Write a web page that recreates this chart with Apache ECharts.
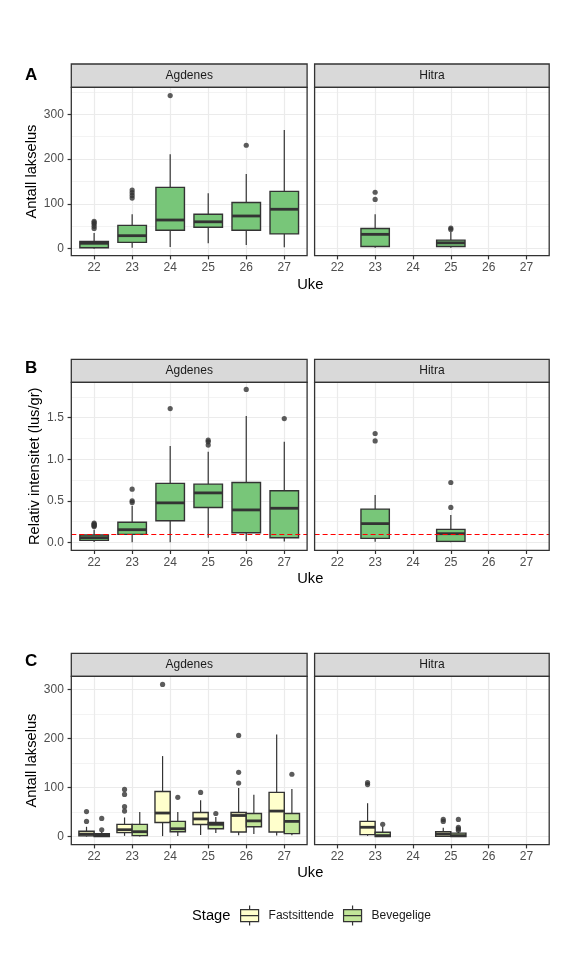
<!DOCTYPE html>
<html><head><meta charset="utf-8">
<script src="https://cdn.jsdelivr.net/npm/echarts@6/dist/echarts.min.js"></script>
<style>html,body{margin:0;padding:0;background:#fff}#c{width:576px;height:960px}</style>
</head><body><div id="c"></div>
<script>
// ---------- DATA ----------
const weeks = [22, 23, 24, 25, 26, 27];
const sites = ['Agdenes', 'Hitra'];
const stages = ['Fastsittende', 'Bevegelige'];
const countTicks = [0, 100, 200, 300];
const intensityTicks = [0, 0.5, 1, 1.5];
const liceThreshold = 0.1;

// boxes: [week, lowerWhisker, Q1, median, Q3, upperWhisker]; outliers: [week, value]
// A: Antall lakselus (total)
const countAgdenesBoxes = [
  [22, 0, 2, 12, 16, 35],
  [23, 2, 14, 29, 52, 77],
  [24, 4, 41, 64, 137, 211],
  [25, 12, 48, 60, 77, 124],
  [26, 8, 41, 73, 103, 167],
  [27, 3, 33, 88, 128, 265]
];
const countAgdenesOutliers = [
  [22, 45], [22, 50], [22, 55], [22, 58], [22, 61],
  [23, 113], [23, 119], [23, 125], [23, 131],
  [24, 342], [26, 231]
];
const countHitraBoxes = [
  [23, 2, 5, 32, 45, 77],
  [25, 2, 5, 13, 19, 37]
];
const countHitraOutliers = [[23, 110], [23, 126], [25, 43], [25, 46]];

// B: Relativ intensitet (lus/gr)
const intensityAgdenesBoxes = [
  [22, 0.005, 0.024, 0.056, 0.088, 0.15],
  [23, 0.0, 0.096, 0.152, 0.241, 0.44],
  [24, 0.0, 0.26, 0.475, 0.71, 1.16],
  [25, 0.055, 0.42, 0.595, 0.70, 1.09],
  [26, 0.015, 0.115, 0.39, 0.72, 1.52],
  [27, 0.01, 0.055, 0.41, 0.62, 1.21]
];
const intensityAgdenesOutliers = [
  [22, 0.19], [22, 0.2], [22, 0.21], [22, 0.22], [22, 0.23],
  [23, 0.48], [23, 0.5], [23, 0.64],
  [24, 1.61],
  [25, 1.17], [25, 1.21], [25, 1.23],
  [26, 1.84], [27, 1.49]
];
const intensityHitraBoxes = [
  [23, 0.008, 0.048, 0.225, 0.40, 0.57],
  [25, 0.0, 0.012, 0.104, 0.156, 0.33]
];
const intensityHitraOutliers = [[23, 1.22], [23, 1.31], [25, 0.42], [25, 0.72]];

// C: Antall lakselus by stage
const fastAgdenesBoxes = [
  [22, 0, 1.5, 5, 11, 20],
  [23, 1.5, 8, 14, 25, 39],
  [24, 1, 28.6, 48, 92, 164],
  [25, 3.5, 24.5, 36, 49, 74],
  [26, 3, 9.5, 43, 49, 99],
  [27, 2, 9.5, 52, 90, 208]
];
const fastAgdenesOutliers = [
  [22, 31], [22, 51],
  [23, 52], [23, 61], [23, 86], [23, 96],
  [24, 310], [25, 90],
  [26, 109], [26, 131], [26, 206]
];
const bevAgdenesBoxes = [
  [22, 0, 0, 2.5, 6, 10],
  [23, 0, 2, 10, 25, 50],
  [24, 1, 10, 16, 31, 50],
  [25, 7.5, 16, 25, 28.6, 40],
  [26, 5.5, 20, 32, 47, 85],
  [27, 3, 6, 31, 47, 97]
];
const bevAgdenesOutliers = [[22, 14], [22, 37], [24, 80], [25, 47], [27, 127]];
const fastHitraBoxes = [
  [23, 1.5, 4, 19, 31, 68],
  [25, 0, 0.5, 5, 10, 18]
];
const fastHitraOutliers = [[23, 106], [23, 110], [25, 31], [25, 35]];
const bevHitraBoxes = [
  [23, 0, 0, 2, 9, 20],
  [25, 0, 0, 2, 7, 10]
];
const bevHitraOutliers = [[23, 25], [25, 13], [25, 16], [25, 19], [25, 35]];

// ---------- LAYOUT / STYLE ----------
const FONT = '"Liberation Sans", Arial, Helvetica, sans-serif';
const DARK = '#333333';
const GRID = '#EBEBEB';
const cols = [{ left: 71.3, width: 235.8 }, { left: 314.6, width: 234.6 }];
const rows = [
  { letter: 'A', top: 87.3, height: 168.4, stripTop: 64, letterY: 75, titleY: 284.5,
    min: -15.7, max: 360.4, ticks: countTicks, fmt: v => String(v), yName: 'Antall lakselus',
    groups: [
      [{ boxes: countAgdenesBoxes, out: countAgdenesOutliers, fill: '#78C679', name: 'Antall' }],
      [{ boxes: countHitraBoxes, out: countHitraOutliers, fill: '#78C679', name: 'Antall' }]
    ], hline: false },
  { letter: 'B', top: 382.3, height: 168, stripTop: 359.3, letterY: 368.5, titleY: 578.8,
    min: -0.096, max: 1.926, ticks: intensityTicks, fmt: v => v.toFixed(1), yName: 'Relativ intensitet (lus/gr)',
    groups: [
      [{ boxes: intensityAgdenesBoxes, out: intensityAgdenesOutliers, fill: '#78C679', name: 'Intensitet' }],
      [{ boxes: intensityHitraBoxes, out: intensityHitraOutliers, fill: '#78C679', name: 'Intensitet' }]
    ], hline: true },
  { letter: 'C', top: 676.3, height: 168.4, stripTop: 653.3, letterY: 661.5, titleY: 873,
    min: -16.5, max: 326.5, ticks: countTicks, fmt: v => String(v), yName: 'Antall lakselus',
    groups: [
      [{ boxes: fastAgdenesBoxes, out: fastAgdenesOutliers, fill: '#FFFFCC', name: stages[0] },
       { boxes: bevAgdenesBoxes, out: bevAgdenesOutliers, fill: '#C2E699', name: stages[1] }],
      [{ boxes: fastHitraBoxes, out: fastHitraOutliers, fill: '#FFFFCC', name: stages[0] },
       { boxes: bevHitraBoxes, out: bevHitraOutliers, fill: '#C2E699', name: stages[1] }]
    ], hline: false }
];

function boxRenderer(offset, width) {
  return function (params, api) {
    const x = api.value(0) + offset;
    const lo = api.value(1), q1 = api.value(2), med = api.value(3), q3 = api.value(4), hi = api.value(5);
    const tl = api.coord([x - width / 2, q3]);
    const br = api.coord([x + width / 2, q1]);
    const pHi = api.coord([x, hi]), pQ3 = api.coord([x, q3]), pQ1 = api.coord([x, q1]), pLo = api.coord([x, lo]);
    const pMed = api.coord([x, med]);
    return {
      type: 'group',
      children: [
        { type: 'line', shape: { x1: pHi[0], y1: pHi[1], x2: pQ3[0], y2: pQ3[1] }, style: { stroke: DARK, lineWidth: 1.2 } },
        { type: 'line', shape: { x1: pLo[0], y1: pLo[1], x2: pQ1[0], y2: pQ1[1] }, style: { stroke: DARK, lineWidth: 1.2 } },
        { type: 'rect', shape: { x: tl[0], y: tl[1], width: br[0] - tl[0], height: br[1] - tl[1] },
          style: { fill: api.visual('color'), stroke: DARK, lineWidth: 1.4 } },
        { type: 'line', shape: { x1: tl[0], y1: pMed[1], x2: br[0], y2: pMed[1] }, style: { stroke: DARK, lineWidth: 2.8 } }
      ]
    };
  };
}

const grids = [], xAxes = [], yAxes = [], series = [], graphics = [];
rows.forEach((row, r) => {
  cols.forEach((col, c) => {
    const gi = r * 2 + c;
    grids.push({ left: col.left, top: row.top, width: col.width, height: row.height, show: false, outerBoundsMode: 'none', containLabel: false });
    xAxes.push({
      type: 'value', gridIndex: gi, min: 21.4, max: 27.6, position: 'bottom',
      axisLine: { show: false, onZero: false },
      axisTick: { show: true, inside: false, length: 3.7, lineStyle: { color: DARK, width: 1.2 }, customValues: weeks },
      axisLabel: { show: true, customValues: weeks, color: '#4D4D4D', fontSize: 12, fontFamily: FONT, margin: 6 },
      splitLine: { show: true, lineStyle: { color: GRID, width: 1.2 } },
      minorSplitLine: { show: false }
    });
    yAxes.push({
      type: 'value', gridIndex: gi, min: row.min, max: row.max, splitNumber: 3, position: 'left',
      axisLine: { show: false, onZero: false },
      axisTick: { show: c === 0, inside: false, length: 3.7, lineStyle: { color: DARK, width: 1.2 }, customValues: row.ticks },
      axisLabel: { show: c === 0, customValues: row.ticks, formatter: row.fmt, color: '#4D4D4D', fontSize: 12, fontFamily: FONT, margin: 7.5 },
      splitLine: { show: true, lineStyle: { color: GRID, width: 1.2 } },
      minorTick: { show: false, splitNumber: 2 },
      minorSplitLine: { show: true, lineStyle: { color: GRID, width: 0.6 } },
      name: c === 0 ? row.yName : '', nameLocation: 'middle', nameRotate: 90, nameGap: 29,
      nameTextStyle: { fontSize: 14.7, color: '#000', fontFamily: FONT }
    });
    const grp = row.groups[c];
    const n = grp.length;
    const boxW = n === 1 ? 0.75 : 0.4;
    grp.forEach((g, k) => {
      const offset = n === 1 ? 0 : (k - (n - 1) / 2) * boxW;
      series.push({
        type: 'custom', name: g.name, xAxisIndex: gi, yAxisIndex: gi,
        itemStyle: { color: g.fill }, renderItem: boxRenderer(offset, boxW),
        encode: { x: 0, y: [1, 2, 3, 4, 5] }, data: g.boxes, z: 2, clip: false
      });
      const sc = {
        type: 'scatter', name: g.name + ' outliers', xAxisIndex: gi, yAxisIndex: gi,
        symbolSize: 5.2, itemStyle: { color: DARK }, z: 3,
        data: g.out.map(p => [p[0] + offset, p[1]])
      };
      if (row.hline && k === 0) {
        sc.markLine = {
          silent: true, symbol: 'none', label: { show: false },
          lineStyle: { color: '#FF0000', type: [5, 3], width: 1.2 },
          data: [{ yAxis: liceThreshold }]
        };
      }
      series.push(sc);
    });
    // strip + panel border
    graphics.push({ type: 'rect', z: 100, shape: { x: col.left, y: row.stripTop, width: col.width, height: row.top - row.stripTop },
      style: { fill: '#D9D9D9', stroke: DARK, lineWidth: 1.3 } });
    graphics.push({ type: 'text', z: 101, x: col.left + col.width / 2, y: (row.stripTop + row.top) / 2,
      style: { text: sites[c], fill: '#1A1A1A', font: '12px ' + FONT, textAlign: 'center', textVerticalAlign: 'middle' } });
    graphics.push({ type: 'rect', z: 100, shape: { x: col.left, y: row.top, width: col.width, height: row.height },
      style: { fill: 'transparent', stroke: DARK, lineWidth: 1.3 } });
  });
  graphics.push({ type: 'text', z: 101, x: 25, y: row.letterY,
    style: { text: row.letter, fill: '#000', font: 'bold 17px ' + FONT, textAlign: 'left', textVerticalAlign: 'middle' } });
  graphics.push({ type: 'text', z: 101, x: (cols[0].left + cols[1].left + cols[1].width) / 2, y: row.titleY,
    style: { text: 'Uke', fill: '#000', font: '14.7px ' + FONT, textAlign: 'center', textVerticalAlign: 'middle' } });
});
graphics.push({ type: 'text', z: 101, x: 192, y: 915.5,
  style: { text: 'Stage', fill: '#000', font: '14.7px ' + FONT, textAlign: 'left', textVerticalAlign: 'middle' } });

const keyIcon = 'path://M0,4 L18,4 L18,16 L0,16 Z M0,10 L18,10 M9,0 L9,4 M9,16 L9,20';

const chart = echarts.init(document.getElementById('c'));
chart.setOption({
  animation: false,
  backgroundColor: '#fff',
  grid: grids, xAxis: xAxes, yAxis: yAxes, series: series,
  legend: {
    left: 240, top: 905, orient: 'horizontal', padding: 0,
    itemWidth: 18, itemHeight: 20, itemGap: 9, selectedMode: false,
    data: stages.map(s => ({ name: s, icon: keyIcon })),
    itemStyle: { borderColor: DARK, borderWidth: 1.2 },
    textStyle: { fontSize: 12, color: '#1A1A1A', fontFamily: FONT, padding: [0, 0, 0, 5] }
  },
  graphic: graphics
});
</script>
</body></html>
